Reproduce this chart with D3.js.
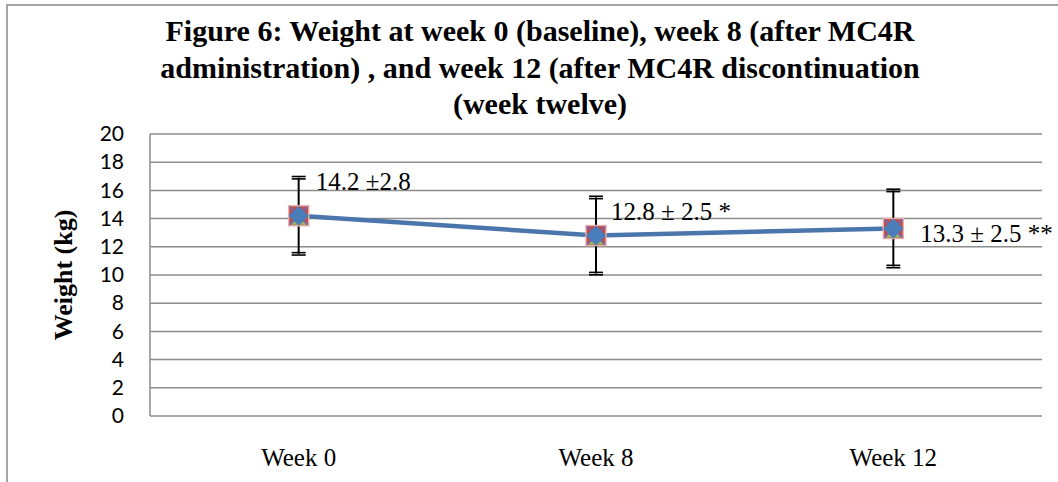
<!DOCTYPE html>
<html><head><meta charset="utf-8">
<script src="https://cdn.jsdelivr.net/npm/d3@7"></script>
<style>body{margin:0;background:#fff}svg{display:block}</style>
</head><body>
<script>
const categories = ["Week 0", "Week 8", "Week 12"];
const means = [14.2, 12.8, 13.3];
const errTop = [16.9, 15.5, 16.0];
const errBottom = [11.5, 10.1, 10.6];
const annotations = ["14.2 \u00B12.8", "12.8 \u00B1 2.5 *", "13.3 \u00B1 2.5 **"];
const yTicks = [0, 2, 4, 6, 8, 10, 12, 14, 16, 18, 20];
const titleLines = ["Figure 6: Weight at week 0 (baseline), week 8 (after MC4R",
  "administration) , and week 12 (after MC4R discontinuation", "(week twelve)"];

const W = 1058, H = 482;
const svg = d3.select("body").append("svg").attr("width", W).attr("height", H);
svg.append("rect").attr("x", 7).attr("y", 5).attr("width", 1070).attr("height", 500)
  .attr("fill", "#fff").attr("stroke", "#868686").attr("stroke-width", 1.5);

const plot = {left: 150, right: 1042, top: 134, bottom: 416};
const x = d3.scaleBand().domain(categories).range([plot.left, plot.right]);
const y = d3.scaleLinear().domain([0, 20]).range([plot.bottom, plot.top]);
const cx = d => x(d) + x.bandwidth() / 2;
const serif = "'Liberation Serif', 'Times New Roman', serif";

// grid
svg.append("g").selectAll("line").data(yTicks).join("line")
  .attr("x1", plot.left).attr("x2", plot.right)
  .attr("y1", d => y(d)).attr("y2", d => y(d))
  .attr("stroke", "#8c8c8c").attr("stroke-width", 1.5);
svg.append("line").attr("x1", plot.left).attr("x2", plot.left)
  .attr("y1", plot.top).attr("y2", plot.bottom).attr("stroke", "#8c8c8c").attr("stroke-width", 1.5);

// y axis
const yAxis = d3.axisLeft(y).tickValues(yTicks).tickSize(0).tickPadding(26);
const gy = svg.append("g").attr("transform", `translate(${plot.left},0)`).call(yAxis);
gy.select(".domain").remove();
gy.selectAll("text").attr("font-family", "Lato, 'Open Sans', sans-serif").attr("font-size", 21).attr("fill", "#000");

// x axis
const xAxis = d3.axisBottom(x).tickSize(0).tickPadding(32);
const gx = svg.append("g").attr("transform", `translate(0,${plot.bottom})`).call(xAxis);
gx.select(".domain").remove();
gx.selectAll("text").attr("font-family", serif).attr("font-size", 25).attr("fill", "#000");

// title
svg.append("g").selectAll("text").data(titleLines).join("text")
  .attr("x", 540).attr("y", (d, i) => 41 + i * 36.5)
  .attr("text-anchor", "middle")
  .attr("font-family", serif)
  .attr("font-weight", "bold").attr("font-size", 30).text(d => d);

// y label
svg.append("text").attr("transform", "translate(72,275) rotate(-90)")
  .attr("text-anchor", "middle")
  .attr("font-family", serif)
  .attr("font-weight", "bold").attr("font-size", 26).text("Weight (kg)");

const data = categories.map((c, i) => ({c, m: means[i], t: errTop[i], b: errBottom[i], a: annotations[i]}));

// line
const line = d3.line().x(d => cx(d.c)).y(d => y(d.m));
svg.append("path").datum(data).attr("d", line).attr("fill", "none")
  .attr("stroke", "#4A76AC").attr("stroke-width", 4.5).attr("stroke-linejoin", "round");

// error bars
const eb = svg.append("g").selectAll("g").data(data).join("g");
eb.append("line").attr("x1", d => cx(d.c)).attr("x2", d => cx(d.c))
  .attr("y1", d => y(d.t)).attr("y2", d => y(d.b)).attr("stroke", "#000").attr("stroke-width", 2);
[-1.2, 1.2].forEach(off => {
  eb.append("line").attr("x1", d => cx(d.c) - 7).attr("x2", d => cx(d.c) + 7)
    .attr("y1", d => y(d.t) + off).attr("y2", d => y(d.t) + off).attr("stroke", "#000").attr("stroke-width", 1.6);
  eb.append("line").attr("x1", d => cx(d.c) - 7).attr("x2", d => cx(d.c) + 7)
    .attr("y1", d => y(d.b) + off).attr("y2", d => y(d.b) + off).attr("stroke", "#000").attr("stroke-width", 1.6);
});

// markers
const mk = svg.append("g").selectAll("g").data(data).join("g")
  .attr("transform", d => `translate(${cx(d.c)},${y(d.m)})`);
mk.append("rect").attr("x", -10).attr("y", -10).attr("width", 20).attr("height", 20)
  .attr("fill", "#BE4B48").attr("stroke", "#E6B0AE").attr("stroke-width", 1.5);
mk.append("path").attr("d", "M-9,9 L0,-2 L9,9 Z").attr("fill", "#9BBB59");
mk.append("path").attr("d", "M-9,-9 L9,9 M9,-9 L-9,9").attr("stroke", "#8064A2").attr("stroke-width", 2);
mk.append("path").attr("d", "M0,-10 L10,0 L0,10 L-10,0 Z").attr("fill", "#4A7EBB");

// annotations
const annOff = [[17, -26], [15, -15.5], [27, 14]];
svg.append("g").selectAll("text").data(data).join("text")
  .attr("x", (d, i) => cx(d.c) + annOff[i][0]).attr("y", (d, i) => y(d.m) + annOff[i][1])
  .attr("font-family", serif)
  .attr("font-size", 25).text(d => d.a);
</script>
</body></html>
